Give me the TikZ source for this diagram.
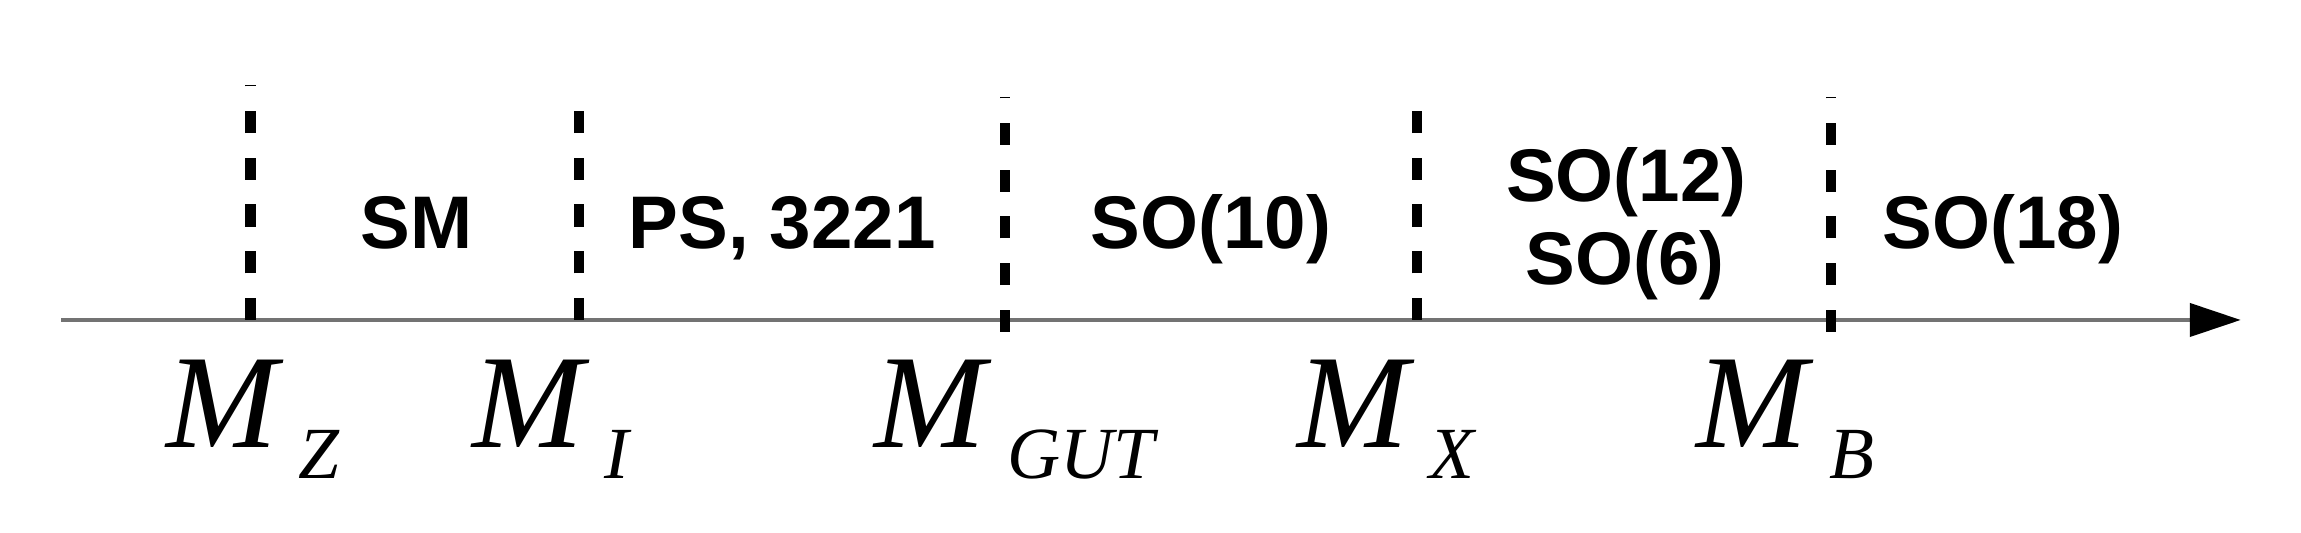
\documentclass[tikz,border=0pt]{standalone}
\usepackage{fontspec}
\setmainfont{Liberation Sans}
\newfontfamily\massfont{Liberation Serif}
\usetikzlibrary{arrows.meta}
\begin{document}
\begin{tikzpicture}[
  grp/.style={font=\fontsize{14.4}{17}\selectfont\bfseries, anchor=base},
  cut/.style={line width=0.07cm, dash pattern=on 0.15cm off 0.167cm},
  mass/.style={font=\massfont\itshape\fontsize{25.8}{30}\selectfont, anchor=base west, inner sep=0pt},
  sub/.style={font=\massfont\itshape\fontsize{14.2}{17}\selectfont, anchor=base west, inner sep=0pt, xshift=0.13cm, yshift=-0.21cm}]
\useasboundingbox (0,0) rectangle (15.62,3.618);
% energy axis
\coordinate (start) at (0.415,1.446);
\coordinate (end) at (15.21,1.446);
\draw[line width=0.6pt, black!55, -{Triangle[length=0.345cm,width=0.226cm,black]}] (start) -- (end);
% thresholds
\coordinate (lz) at (1.70,1.446);
\coordinate (li) at (3.93,1.446);
\coordinate (lg) at (6.82,1.366);
\coordinate (lx) at (9.62,1.446);
\coordinate (lb) at (12.43,1.366);
\draw[cut] (lz) -- ++(0,1.595);
\draw[cut] (li) -- ++(0,1.42);
\draw[cut] (lg) -- ++(0,1.595);
\draw[cut] (lx) -- ++(0,1.42);
\draw[cut] (lb) -- ++(0,1.595);
% groups
\node[grp] (sm) at (2.83,1.932) {SM};
\node[grp] (ps) at (5.31,1.932) {PS, 3221};
\node[grp] (so10) at (8.22,1.932) {SO(10)};
\node[grp] (so12) at (11.04,2.25) {SO(12)};
\node[grp] (so6) at (11.03,1.685) {SO(6)};
\node[grp] (so18) at (13.595,1.932) {SO(18)};
% scales
\node[mass] (mZ) at (1.12,0.583) {M};
\node[sub] (sZ) at (mZ.base east) {Z};
\node[mass] (mI) at (3.20,0.583) {M};
\node[sub] (sI) at (mI.base east) {I};
\node[mass] (mG) at (5.93,0.583) {M};
\node[sub] (sG) at (mG.base east) {GUT};
\node[mass] (mX) at (8.80,0.583) {M};
\node[sub] (sX) at (mX.base east) {X};
\node[mass] (mB) at (11.51,0.583) {M};
\node[sub] (sB) at (mB.base east) {B};
\end{tikzpicture}
\end{document}
